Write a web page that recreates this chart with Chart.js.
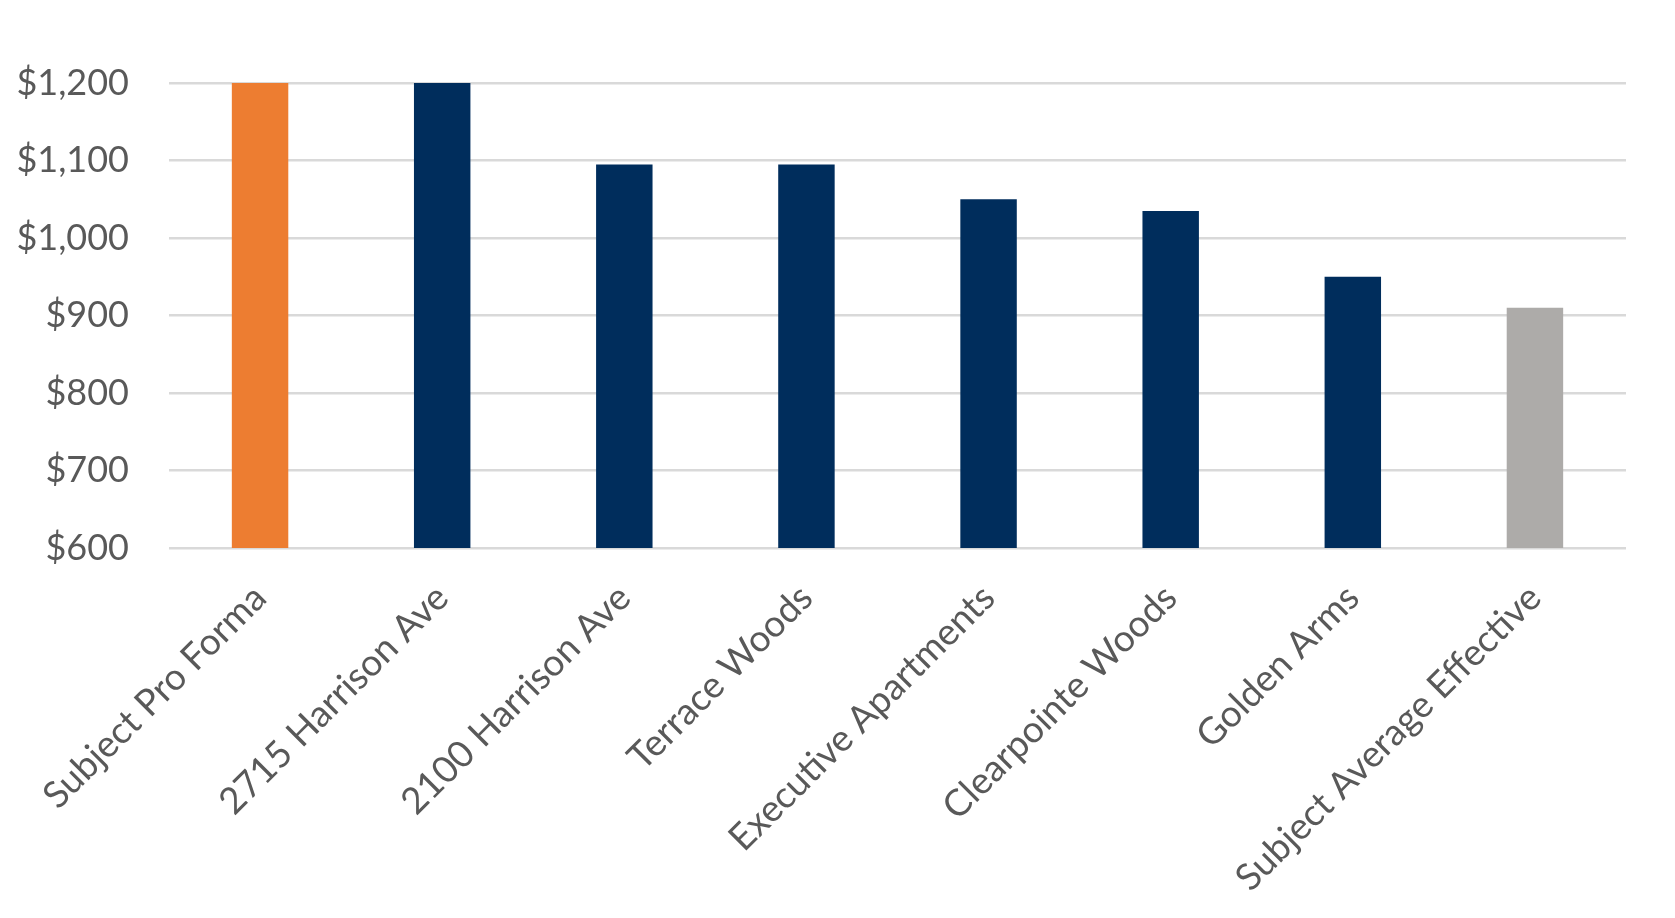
<!DOCTYPE html>
<html>
<head>
<meta charset="utf-8">
<script src="https://cdn.jsdelivr.net/npm/chart.js@4"></script>
<style>
  html, body { margin: 0; padding: 0; background: #ffffff; }
  #wrap { width: 1675px; height: 918px; position: relative; }
</style>
</head>
<body>
<div id="wrap"><canvas id="rentChart"></canvas></div>
<script>
// Rent comparison
const categories = [
  'Subject Pro Forma',
  '2715 Harrison Ave',
  '2100 Harrison Ave',
  'Terrace Woods',
  'Executive Apartments',
  'Clearpointe Woods',
  'Golden Arms',
  'Subject Average Effective'
];
const rents = [1200, 1200, 1095, 1095, 1050, 1035, 950, 910];
const yTicks = [600, 700, 800, 900, 1000, 1100, 1200];

// subject bars get their own colours, comps are navy
const ORANGE = '#ED7D31';
const NAVY = '#002D5C';
const GREY = '#ADABA9';
const barColors = [ORANGE, NAVY, NAVY, NAVY, NAVY, NAVY, NAVY, GREY];

const textColor = '#595959';
const gridColor = '#D9D9D9';
const fontFamily = 'Lato, "Open Sans", sans-serif';

const ctx = document.getElementById('rentChart').getContext('2d');

new Chart(ctx, {
  type: 'bar',
  data: {
    labels: categories,
    datasets: [{
      data: rents,
      backgroundColor: barColors,
      borderWidth: 0,
      barPercentage: 0.31,
      categoryPercentage: 1.0
    }]
  },
  options: {
    responsive: true,
    maintainAspectRatio: false,
    animation: false,
    layout: { padding: { top: 83, right: 49, left: 0, bottom: 0 } },
    plugins: {
      legend: { display: false },
      tooltip: { enabled: false }
    },
    scales: {
      x: {
        grid: { display: false },
        border: { display: false },
        ticks: {
          color: textColor,
          font: { family: fontFamily, size: 37 },
          maxRotation: 45,
          minRotation: 45,
          padding: 20
        },
        afterFit: (scale) => { scale.height = 370; }
      },
      y: {
        min: yTicks[0],
        max: yTicks[yTicks.length - 1],
        afterBuildTicks: (scale) => { scale.ticks = yTicks.map(v => ({ value: v })); },
        grid: { color: gridColor, lineWidth: 2.5, drawTicks: false },
        border: { display: false },
        ticks: {
          color: textColor,
          font: { family: fontFamily, size: 36 },
          padding: 40,
          callback: (v) => '$' + Number(v).toLocaleString('en-US')
        },
        afterFit: (scale) => { scale.width = 169; }
      }
    }
  }
});
</script>
</body>
</html>
